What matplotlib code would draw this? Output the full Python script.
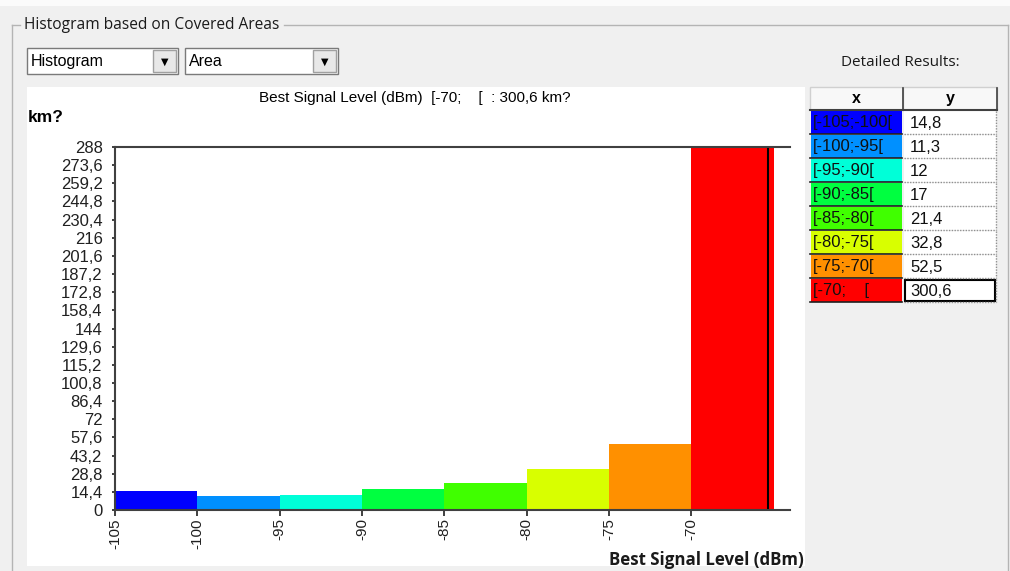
import matplotlib
matplotlib.use("Agg")
import matplotlib.pyplot as plt
from matplotlib.patches import Rectangle
from matplotlib.ticker import FuncFormatter

# --- data ---
bin_starts = [-105, -100, -95, -90, -85, -80, -75, -70]
bin_width = 5
areas = [14.8, 11.3, 12, 17, 21.4, 32.8, 52.5, 300.6]
bin_labels = ["[-105;-100[", "[-100;-95[", "[-95;-90[", "[-90;-85[",
              "[-85;-80[", "[-80;-75[", "[-75;-70[", "[-70;    ["]
bin_colors = ["#0000ff", "#0090ff", "#00ffd8", "#00ff40",
              "#40ff00", "#d8ff00", "#ff9000", "#ff0000"]
y_ticks = [round(i * 14.4, 1) for i in range(21)]
x_ticks = [-105, -100, -95, -90, -85, -80, -75, -70]
marker_x = -65.35

W, H = 1010, 571
BG = "#f0f0f0"
plt.rcParams['font.family'] = ['Liberation Sans', 'DejaVu Sans']


def fmt_num(v):
    s = f"{v:.1f}".rstrip("0").rstrip(".")
    return s.replace(".", ",")


fig = plt.figure(figsize=(W / 100, H / 100), dpi=100, facecolor=BG)

# UI layer in pixel coordinates (origin top-left)
ui = fig.add_axes([0, 0, 1, 1], zorder=0)
ui.set_xlim(0, W)
ui.set_ylim(H, 0)
ui.axis('off')

ui.add_patch(Rectangle((0, 0), W, 6, facecolor="#fbfbfb", edgecolor="none"))

# group box frame
gcol = "#b4b4b4"
ui.plot([12, 20], [25, 25], color=gcol, lw=1)
ui.plot([284, 1008], [25, 25], color=gcol, lw=1)
ui.plot([12, 12], [25, H], color=gcol, lw=1)
ui.plot([1008, 1008], [25, H], color=gcol, lw=1)
ui.text(24, 25, "Histogram based on Covered Areas", fontsize=11.2,
        family=['Open Sans', 'DejaVu Sans'], va='center', ha='left', color="#1a1a1a")

# combo boxes
for (x0, x1, label) in [(27, 178, "Histogram"), (185, 338, "Area")]:
    ui.add_patch(Rectangle((x0, 48), x1 - x0, 26, facecolor="white", edgecolor="#7a7a7a", lw=1))
    ui.add_patch(Rectangle((x1 - 25, 50), 23, 22, facecolor="#e8e8e8", edgecolor="#a0a0a0", lw=1))
    ui.text(x1 - 13.5, 61.5, "\u25bc", fontsize=7, ha='center', va='center',
            family='DejaVu Sans', color="black")
    ui.text(x0 + 4, 61.5, label, fontsize=11.5, ha='left', va='center', color="black")

# white chart panel
ui.add_patch(Rectangle((27, 87), 778, 479, facecolor="white", edgecolor="none"))

title = "Best Signal Level (dBm)  " + bin_labels[-1] + "  : " + fmt_num(areas[-1]) + " km?"
ui.text(415, 98, title, fontsize=11, ha='center', va='center', color="black")
ui.text(28, 118, "km?", fontsize=12.5, fontweight='bold', ha='left', va='center')
ui.text(804, 560, "Best Signal Level (dBm)", fontsize=12.2, fontweight='bold',
        family=['Open Sans', 'DejaVu Sans'], ha='right', va='center', color="#1a1a1a")

# detailed results table
ui.text(900, 62, "Detailed Results:", fontsize=11, family=['Open Sans', 'DejaVu Sans'],
        ha='center', va='center', color="#1a1a1a")
ui.add_patch(Rectangle((810, 87), 93, 23, facecolor="#f8f8f8", edgecolor="#d0d0d0", lw=1))
ui.add_patch(Rectangle((903, 87), 94, 23, facecolor="#f8f8f8", edgecolor="#d0d0d0", lw=1))
ui.plot([903, 903], [88, 110], color="#404040", lw=1.2)
ui.plot([997, 997], [88, 110], color="#404040", lw=1.2)
ui.plot([810, 997], [110, 110], color="#404040", lw=1.5)
ui.text(856, 98.5, "x", fontsize=11.5, fontweight='bold', ha='center', va='center')
ui.text(950, 98.5, "y", fontsize=11.5, fontweight='bold', ha='center', va='center')

row_h = 24
for i, (lab, val, col) in enumerate(zip(bin_labels, areas, bin_colors)):
    top = 111 + i * row_h
    cell = Rectangle((811, top), 91, row_h - 1, facecolor=col, edgecolor="none")
    ui.add_patch(cell)
    ui.plot([810, 902], [top + row_h - 1, top + row_h - 1], color="#202020", lw=1.2)
    ui.add_patch(Rectangle((904, top), 92, row_h - 1, facecolor="white", edgecolor="none"))
    ui.plot([904, 996], [top + row_h - 1, top + row_h - 1], color="#909090", lw=1, ls=(0, (1, 1)))
    ui.plot([996, 996], [top, top + row_h - 1], color="#909090", lw=1, ls=(0, (1, 1)))
    t = ui.text(813, top + row_h / 2, lab, fontsize=12, ha='left', va='center', color="#101010")
    t.set_clip_path(cell)
    ui.text(910, top + row_h / 2, fmt_num(val), fontsize=12, ha='left', va='center', color="#101010")
last_top = 111 + (len(areas) - 1) * row_h
ui.add_patch(Rectangle((905, last_top + 1), 90, row_h - 3, facecolor="none", edgecolor="black", lw=1.5))

# chart axes
left, right, top_px, bot_px = 115, 790, 147, 510
ax = fig.add_axes([left / W, 1 - bot_px / H, (right - left) / W, (bot_px - top_px) / H], zorder=1)
ax.set_facecolor("white")
ax.bar(bin_starts, areas, width=bin_width, align='edge', color=bin_colors, edgecolor="none")
ax.axvline(marker_x, color="black", lw=1.5)
ax.set_xlim(-105, -64)
ax.set_ylim(0, 288)
ax.set_yticks(y_ticks)
ax.set_xticks(x_ticks)
ax.yaxis.set_major_formatter(FuncFormatter(lambda v, p: fmt_num(v)))
ax.xaxis.set_major_formatter(FuncFormatter(lambda v, p: f"{v:.0f}"))
ax.tick_params(axis='y', length=2, width=1.2, labelsize=12, pad=7, colors="#202020")
ax.tick_params(axis='x', length=4, width=1.2, labelsize=11, pad=2, colors="#202020",
               labelrotation=90)
for side in ['left', 'bottom', 'top']:
    ax.spines[side].set_color("#404040")
    ax.spines[side].set_linewidth(1.5)
ax.spines['right'].set_visible(False)

fig.savefig("out.png", dpi=100, facecolor=BG)
